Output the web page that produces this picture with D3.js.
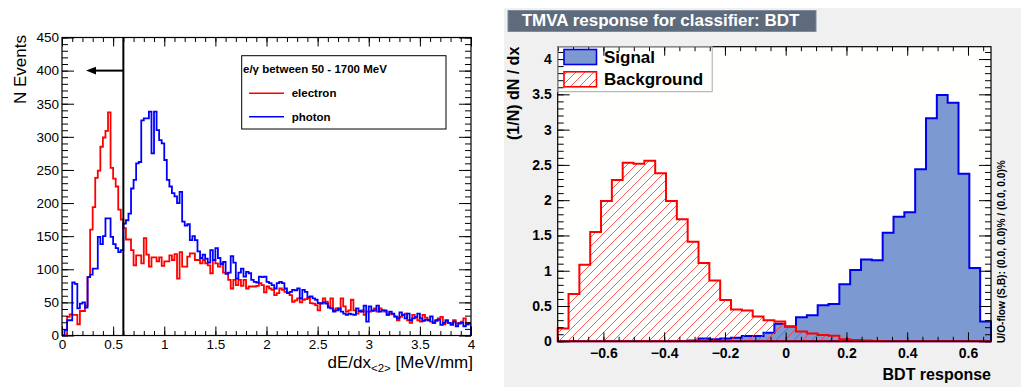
<!DOCTYPE html>
<html>
<head>
<meta charset="utf-8">
<script src="https://cdn.jsdelivr.net/npm/d3@7"></script>
<style>
  body { margin: 0; background: #fff; }
  text { font-family: "Liberation Sans", Arial, Helvetica, sans-serif; }
</style>
</head>
<body>
<svg id="chart" width="1021" height="387"></svg>
<script>

// ---- left: dE/dx histograms, 160 bins of 0.025 MeV/mm starting at 0 ----
const dedxBinWidth = 0.025;

const electron = [
  0, 0, 28, 32, 31, 31, 17, 37, 37, 45,
  88, 160, 194, 238, 249, 285, 299, 309, 337, 253,
  237, 225, 190, 175, 162, 145, 145, 129, 106, 121,
  121, 109, 147, 122, 104, 118, 118, 112, 118, 105,
  112, 112, 121, 114, 123, 86, 126, 104, 104, 119,
  124, 124, 114, 114, 109, 114, 109, 106, 94, 114,
  109, 104, 109, 95, 94, 84, 71, 84, 76, 84,
  75, 84, 71, 74, 74, 74, 75, 79, 76, 65,
  74, 71, 69, 61, 64, 71, 69, 66, 64, 61,
  51, 53, 56, 50, 54, 55, 56, 49, 48, 46,
  38, 49, 56, 51, 44, 56, 38, 41, 39, 56,
  44, 36, 38, 54, 38, 33, 36, 38, 31, 36,
  36, 37, 41, 36, 41, 38, 36, 31, 33, 32,
  28, 23, 28, 31, 33, 23, 19, 31, 27, 23,
  21, 31, 27, 23, 21, 19, 22, 26, 28, 17,
  21, 19, 18, 23, 18, 19, 21, 26, 17, 19
];

const photon = [
  0, 8, 23, 23, 80, 78, 41, 48, 50, 42,
  88, 92, 101, 101, 149, 138, 150, 177, 177, 149,
  138, 132, 126, 129, 169, 174, 184, 222, 235, 260,
  262, 325, 328, 328, 338, 275, 338, 310, 295, 290,
  265, 235, 225, 215, 210, 200, 217, 172, 166, 168,
  144, 150, 144, 127, 117, 122, 116, 110, 129, 114,
  132, 117, 108, 111, 93, 95, 120, 110, 86, 95,
  101, 89, 96, 94, 84, 81, 80, 89, 88, 89,
  81, 79, 76, 71, 79, 81, 79, 71, 64, 66,
  69, 68, 71, 56, 69, 66, 58, 59, 56, 54,
  49, 48, 50, 48, 42, 41, 36, 38, 41, 36,
  33, 31, 33, 32, 31, 41, 37, 36, 45, 21,
  44, 38, 38, 45, 36, 38, 38, 31, 36, 33,
  29, 26, 35, 31, 26, 33, 23, 26, 28, 33,
  26, 22, 24, 23, 29, 19, 23, 24, 16, 19,
  23, 19, 16, 21, 14, 18, 19, 14, 17, 18
];

const dedxRange = [0, 4];
const countRange = [0, 450];
const dedxMajorTicks = [0, 0.5, 1, 1.5, 2, 2.5, 3, 3.5, 4];
const countMajorTicks = [0, 50, 100, 150, 200, 250, 300, 350, 400, 450];
const dedxCut = 0.6;
const arrowY = 400;
const arrowTip = 0.235;
const legendTitle = "e/\u03b3 between 50 - 1700 MeV";
const legendNames = ["electron", "photon"];
const legendColors = ["#ff0000", "#0000ff"];

// ---- right: TMVA BDT response, 40 bins ----
const bdtRange = [-0.7505, 0.6758];
const bdtYMax = 4.175;

const signal = [
  0, 0, 0, 0, 0, 0, 0, 0, 0, 0,
  0, 0.005, 0.01, 0.04, 0.03, 0.04, 0.05, 0.075, 0.075, 0.12,
  0.25, 0.21, 0.34, 0.37, 0.51, 0.53, 0.81, 1.01, 1.16, 1.15,
  1.54, 1.765, 1.83, 2.44, 3.16, 3.49, 3.38, 2.375, 1.04, 0.28
];

const background = [
  0.18, 0.67, 1.085, 1.55, 1.99, 2.285, 2.53, 2.515, 2.56, 2.38,
  1.99, 1.73, 1.41, 1.11, 0.86, 0.585, 0.45, 0.435, 0.35, 0.30,
  0.28, 0.21, 0.14, 0.11, 0.09, 0.08, 0.03, 0.02, 0.01, 0.005,
  0, 0, 0, 0, 0, 0, 0, 0, 0, 0
];

const bdtXTicks = [-0.6, -0.4, -0.2, 0, 0.2, 0.4, 0.6];
const bdtYTicks = [0, 0.5, 1, 1.5, 2, 2.5, 3, 3.5, 4];
const bdtTitle = "TMVA response for classifier: BDT";
const bdtLegend = ["Signal", "Background"];

const svg = d3.select("#chart");

function stepPath(vals, lo, w, x, y) {
  const p = d3.path();
  p.moveTo(x(lo), y(0));
  vals.forEach((v, i) => {
    p.lineTo(x(lo + i * w), y(v));
    p.lineTo(x(lo + (i + 1) * w), y(v));
  });
  p.lineTo(x(lo + vals.length * w), y(0));
  return p.toString();
}

function addAxis(g, axis, transform, font) {
  const a = g.append("g").attr("transform", transform).call(axis);
  a.select(".domain").remove();
  a.attr("font-family", null).attr("font-size", null);
  a.selectAll("text").attr("fill", "#000")
    .style("font-size", font.size + "px")
    .style("font-weight", font.weight);
  return a;
}

// ================= left panel =================
const L = { x0: 62, x1: 471, y0: 335.5, y1: 37.5 };
const xL = d3.scaleLinear().domain(dedxRange).range([L.x0, L.x1]);
const yL = d3.scaleLinear().domain(countRange).range([L.y0, L.y1]);
const gl = svg.append("g");
const fontL = { size: 13.5, weight: "normal" };

svg.append("defs").append("clipPath").attr("id", "clipL")
  .append("rect").attr("x", L.x0).attr("y", L.y1)
  .attr("width", L.x1 - L.x0).attr("height", L.y0 - L.y1);

gl.append("rect").attr("x", L.x0).attr("y", L.y1)
  .attr("width", L.x1 - L.x0).attr("height", L.y0 - L.y1).attr("fill", "#fff");

const hists = gl.append("g").attr("clip-path", "url(#clipL)");
[[electron, "#ff0000"], [photon, "#0000ff"]].forEach(([vals, col]) => {
  hists.append("path")
    .attr("d", stepPath(vals, 0, dedxBinWidth, xL, yL))
    .attr("fill", "none").attr("stroke", col)
    .attr("stroke-width", 1.8).attr("stroke-linejoin", "miter");
});

// ticks, ROOT style: inside the frame
addAxis(gl, d3.axisBottom(xL).tickValues(dedxMajorTicks).tickSize(-9).tickPadding(4)
  .tickFormat(d3.format("~g")), `translate(0,${L.y0})`, fontL);
addAxis(gl, d3.axisBottom(xL).tickValues(d3.range(0, 41).map(i => i / 10)).tickSize(-4.5)
  .tickFormat(""), `translate(0,${L.y0})`, fontL);
addAxis(gl, d3.axisTop(xL).tickValues(dedxMajorTicks).tickSize(-9).tickFormat(""),
  `translate(0,${L.y1})`, fontL);
addAxis(gl, d3.axisTop(xL).tickValues(d3.range(0, 41).map(i => i / 10)).tickSize(-4.5)
  .tickFormat(""), `translate(0,${L.y1})`, fontL);
addAxis(gl, d3.axisLeft(yL).tickValues(countMajorTicks).tickSize(-12).tickPadding(3),
  `translate(${L.x0},0)`, fontL);
addAxis(gl, d3.axisLeft(yL).tickValues(d3.range(0, 46).map(i => i * 10)).tickSize(-6)
  .tickFormat(""), `translate(${L.x0},0)`, fontL);
addAxis(gl, d3.axisRight(yL).tickValues(countMajorTicks).tickSize(-12).tickFormat(""),
  `translate(${L.x1},0)`, fontL);
addAxis(gl, d3.axisRight(yL).tickValues(d3.range(0, 46).map(i => i * 10)).tickSize(-6)
  .tickFormat(""), `translate(${L.x1},0)`, fontL);

gl.append("rect").attr("x", L.x0).attr("y", L.y1)
  .attr("width", L.x1 - L.x0).attr("height", L.y0 - L.y1)
  .attr("fill", "none").attr("stroke", "#000").attr("stroke-width", 1.2);

// cut line and arrow
gl.append("line").attr("x1", xL(dedxCut)).attr("x2", xL(dedxCut))
  .attr("y1", L.y1).attr("y2", L.y0).attr("stroke", "#000").attr("stroke-width", 2);
const ay = yL(arrowY), ax = xL(arrowTip);
gl.append("line").attr("x1", xL(dedxCut)).attr("x2", ax + 8)
  .attr("y1", ay).attr("y2", ay).attr("stroke", "#000").attr("stroke-width", 2);
gl.append("path")
  .attr("d", `M${ax},${ay}L${ax + 10},${ay - 3.8}L${ax + 10},${ay + 3.8}Z`)
  .attr("fill", "#000");

// legend
const lg = gl.append("g");
lg.append("rect").attr("x", 241.7).attr("y", 55.7).attr("width", 204.3).attr("height", 73.3)
  .attr("fill", "#fff").attr("stroke", "#000").attr("stroke-width", 1);
lg.append("text").attr("x", 243).attr("y", 72.5).text(legendTitle)
  .style("font-size", "11.5px").style("font-weight", "bold");
legendNames.forEach((name, i) => {
  const y = 93.3 + i * 23.4;
  lg.append("line").attr("x1", 249).attr("x2", 284).attr("y1", y).attr("y2", y)
    .attr("stroke", legendColors[i]).attr("stroke-width", 1.5);
  lg.append("text").attr("x", 291.7).attr("y", y + 4).text(name)
    .style("font-size", "11.5px").style("font-weight", "bold");
});

// axis titles
gl.append("text").attr("transform", "translate(26,35) rotate(-90)")
  .attr("text-anchor", "end").style("font-size", "17px").text("N Events");
const xt = gl.append("text").attr("x", 473).attr("y", 368)
  .attr("text-anchor", "end").style("font-size", "17px");
xt.append("tspan").text("dE/dx");
xt.append("tspan").attr("dy", 4).style("font-size", "11.5px").text("<2>");
xt.append("tspan").attr("dy", -4).text(" [MeV/mm]");

// ================= right panel =================
const gr = svg.append("g");
gr.append("rect").attr("x", 504).attr("y", 8).attr("width", 517).attr("height", 379)
  .attr("fill", "#f0f0f0");

gr.append("rect").attr("x", 508).attr("y", 10.5).attr("width", 308).attr("height", 21)
  .attr("fill", "#5d6b7d").attr("stroke", "#7d8b9d").attr("stroke-width", 1);
gr.append("text").attr("x", 521.7).attr("y", 25.8).attr("fill", "#fff")
  .style("font-size", "17px").style("font-weight", "bold").text(bdtTitle);

const R = { x0: 557.7, x1: 991, y0: 341.3, y1: 46.7 };
const xR = d3.scaleLinear().domain(bdtRange).range([R.x0, R.x1]);
const yR = d3.scaleLinear().domain([0, bdtYMax]).range([R.y0, R.y1]);
const bdtBinWidth = (bdtRange[1] - bdtRange[0]) / signal.length;
const fontR = { size: 14, weight: "bold" };

const hatch = svg.select("defs").append("pattern").attr("id", "hatch")
  .attr("patternUnits", "userSpaceOnUse").attr("width", 9).attr("height", 9);
hatch.append("path").attr("d", "M-1,1L1,-1M0,9L9,0M8,10L10,8")
  .attr("stroke", "#ff3030").attr("stroke-width", 0.8);

gr.append("rect").attr("x", R.x0).attr("y", R.y1)
  .attr("width", R.x1 - R.x0).attr("height", R.y0 - R.y1).attr("fill", "#fffffd");

gr.append("path").attr("d", stepPath(signal, bdtRange[0], bdtBinWidth, xR, yR) + "Z")
  .attr("fill", "#7d99d1").attr("stroke", "#0000ee").attr("stroke-width", 2);
gr.append("path").attr("d", stepPath(background, bdtRange[0], bdtBinWidth, xR, yR) + "Z")
  .attr("fill", "url(#hatch)").attr("stroke", "#ff0000").attr("stroke-width", 2);

const bdtMinor = d3.range(-15, 14).map(i => i * 0.05);
const bdtYMinor = d3.range(0, 42).map(i => i / 10);
addAxis(gr, d3.axisBottom(xR).tickValues(bdtXTicks).tickSize(-9).tickPadding(7)
  .tickFormat(d => d === 0 ? "0" : d3.format(".1f")(d)), `translate(0,${R.y0})`, fontR);
addAxis(gr, d3.axisBottom(xR).tickValues(bdtMinor).tickSize(-4.5).tickFormat(""),
  `translate(0,${R.y0})`, fontR);
addAxis(gr, d3.axisTop(xR).tickValues(bdtXTicks).tickSize(-9).tickFormat(""),
  `translate(0,${R.y1})`, fontR);
addAxis(gr, d3.axisTop(xR).tickValues(bdtMinor).tickSize(-4.5).tickFormat(""),
  `translate(0,${R.y1})`, fontR);
addAxis(gr, d3.axisLeft(yR).tickValues(bdtYTicks).tickSize(-12).tickPadding(6)
  .tickFormat(d3.format("~g")), `translate(${R.x0},0)`, fontR);
addAxis(gr, d3.axisLeft(yR).tickValues(bdtYMinor).tickSize(-6).tickFormat(""),
  `translate(${R.x0},0)`, fontR);
addAxis(gr, d3.axisRight(yR).tickValues(bdtYTicks).tickSize(-12).tickFormat(""),
  `translate(${R.x1},0)`, fontR);
addAxis(gr, d3.axisRight(yR).tickValues(bdtYMinor).tickSize(-6).tickFormat(""),
  `translate(${R.x1},0)`, fontR);

gr.append("rect").attr("x", R.x0).attr("y", R.y1)
  .attr("width", R.x1 - R.x0).attr("height", R.y0 - R.y1)
  .attr("fill", "none").attr("stroke", "#000").attr("stroke-width", 1.2);

// legend
gr.append("rect").attr("x", R.x0).attr("y", R.y1).attr("width", 154.5).attr("height", 45)
  .attr("fill", "none").attr("stroke", "#a8a8a8").attr("stroke-width", 1);
const swatch = [["#7d99d1", "#0000ee"], ["url(#hatch)", "#ff0000"]];
bdtLegend.forEach((name, i) => {
  const y = 49.5 + i * 22.3;
  gr.append("rect").attr("x", 564).attr("y", y).attr("width", 32.5).attr("height", 15)
    .attr("fill", i === 1 ? "#fffffd" : swatch[i][0]).attr("stroke", "none");
  gr.append("rect").attr("x", 564).attr("y", y).attr("width", 32.5).attr("height", 15)
    .attr("fill", swatch[i][0]).attr("stroke", swatch[i][1]).attr("stroke-width", 1.6);
  gr.append("text").attr("x", 604).attr("y", y + 13).text(name)
    .style("font-size", "17px").style("font-weight", "bold");
});

// axis titles
gr.append("text").attr("transform", `translate(519,${R.y1}) rotate(-90)`)
  .attr("text-anchor", "end").style("font-size", "16px").style("font-weight", "bold")
  .text("(1/N) dN / dx");
gr.append("text").attr("x", R.x1).attr("y", 380).attr("text-anchor", "end")
  .style("font-size", "16px").style("font-weight", "bold").text("BDT response");
gr.append("text").attr("transform", "translate(1004.5,343) rotate(-90)")
  .style("font-size", "10.2px").style("font-weight", "bold")
  .text("U/O-flow (S,B): (0.0, 0.0)% / (0.0, 0.0)%");

</script>
</body>
</html>
